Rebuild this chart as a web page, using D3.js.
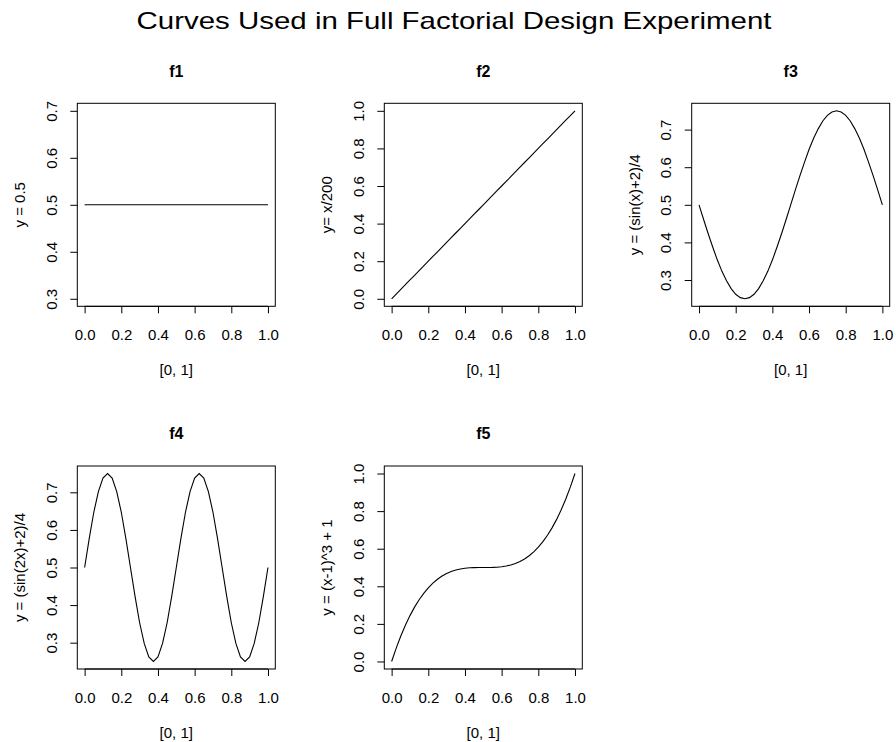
<!DOCTYPE html>
<html><head><meta charset="utf-8">
<script src="https://cdn.jsdelivr.net/npm/d3@7"></script>
<style>
body{margin:0;background:#fff;}
svg{display:block;font-family:"Liberation Sans",Arial,sans-serif;}
</style></head><body>
<div id="chart"></div>
<script>
const mainTitle = "Curves Used in Full Factorial Design Experiment";
const panelTitles = ["f1","f2","f3","f4","f5"];
const yLabels = ["y = 0.5","y= x/200","y = (sin(x)+2)/4","y = (sin(2x)+2)/4","y = (x-1)^3 + 1"];
const xLabel = "[0, 1]";
const xTicks = [0.0,0.2,0.4,0.6,0.8,1.0];
const yTicksSmall = [0.3,0.4,0.5,0.6,0.7];
const yTicksUnit = [0.0,0.2,0.4,0.6,0.8,1.0];

const xGrid = [0,0.025,0.05,0.075,0.1,0.125,0.15,0.175,0.2,0.225,0.25,0.275,0.3,0.325,0.35,0.375,0.4,0.425,0.45,0.475,0.5,
  0.525,0.55,0.575,0.6,0.625,0.65,0.675,0.7,0.725,0.75,0.775,0.8,0.825,0.85,0.875,0.9,0.925,0.95,0.975,1];
const f1 = [0.5,0.5,0.5,0.5,0.5,0.5,0.5,0.5,0.5,0.5,0.5,0.5,0.5,0.5,0.5,0.5,0.5,0.5,0.5,0.5,0.5,
  0.5,0.5,0.5,0.5,0.5,0.5,0.5,0.5,0.5,0.5,0.5,0.5,0.5,0.5,0.5,0.5,0.5,0.5,0.5,0.5];
const f2 = [0,0.025,0.05,0.075,0.1,0.125,0.15,0.175,0.2,0.225,0.25,0.275,0.3,0.325,0.35,0.375,0.4,0.425,0.45,0.475,0.5,
  0.525,0.55,0.575,0.6,0.625,0.65,0.675,0.7,0.725,0.75,0.775,0.8,0.825,0.85,0.875,0.9,0.925,0.95,0.975,1];
const f3 = [0.5,0.461,0.423,0.387,0.353,0.323,0.298,0.277,0.262,0.253,0.25,
  0.253,0.262,0.277,0.298,0.323,0.353,0.387,0.423,0.461,0.5,
  0.539,0.577,0.613,0.647,0.677,0.702,0.723,0.738,0.747,0.75,
  0.747,0.738,0.723,0.702,0.677,0.647,0.613,0.577,0.539,0.5];
const f4 = [0.5,0.577,0.647,0.702,0.738,0.75,0.738,0.702,0.647,0.577,0.5,
  0.423,0.353,0.298,0.262,0.25,0.262,0.298,0.353,0.423,0.5,
  0.577,0.647,0.702,0.738,0.75,0.738,0.702,0.647,0.577,0.5,
  0.423,0.353,0.298,0.262,0.25,0.262,0.298,0.353,0.423,0.5];
const f5 = [0,0.0713,0.1355,0.1929,0.244,0.2891,0.3285,0.3627,0.392,0.4168,0.4375,
  0.4544,0.468,0.4786,0.4865,0.4922,0.496,0.4983,0.4995,0.4999,0.5,
  0.5001,0.5005,0.5017,0.504,0.5078,0.5135,0.5214,0.532,0.5456,0.5625,
  0.5832,0.608,0.6373,0.6715,0.7109,0.756,0.8071,0.8645,0.9287,1];
const seriesValues = [f1,f2,f3,f4,f5];
const yDomains = [[0.284,0.716],[-0.04,1.04],[0.23,0.77],[0.23,0.77],[-0.04,1.04]];
const yTickSets = [yTicksSmall,yTicksUnit,yTicksSmall,yTicksSmall,yTicksUnit];

const W = 896, H = 742;
const colLeft = [77.3, 384.3, 691.7];
const rowTop = [103.3, 466];
const pw = 198, ph = 203;

const svg = d3.select("#chart").append("svg").attr("width",W).attr("height",H);
svg.append("rect").attr("width",W).attr("height",H).attr("fill","#fff");

svg.append("text").attr("x",454).attr("y",28.5).attr("text-anchor","middle")
  .attr("font-size",24).attr("fill","#000")
  .attr("textLength",635).attr("lengthAdjust","spacingAndGlyphs").text(mainTitle);

seriesValues.forEach((vals,i)=>{
  const c = i%3, r = Math.floor(i/3);
  const g = svg.append("g").attr("transform",`translate(${colLeft[c]},${rowTop[r]})`);
  const x = d3.scaleLinear().domain([-0.04,1.04]).range([0,pw]);
  const y = d3.scaleLinear().domain(yDomains[i]).range([ph,0]);

  const gx = g.append("g").attr("transform",`translate(0,${ph})`)
    .call(d3.axisBottom(x).tickValues(xTicks).tickFormat(d3.format(".1f")).tickSize(7).tickSizeOuter(0));
  gx.select(".domain").remove();
  gx.selectAll("text").attr("y",33.5).attr("dy",0).attr("font-size",15).attr("font-family",null).attr("fill","#000");
  gx.selectAll("line").attr("stroke","#000");
  gx.append("line").attr("x1",x(0)).attr("x2",x(1)).attr("stroke","#000");

  const gy = g.append("g")
    .call(d3.axisLeft(y).tickValues(yTickSets[i]).tickFormat(d3.format(".1f")).tickSize(7).tickSizeOuter(0));
  gy.select(".domain").remove();
  gy.selectAll("text").attr("x",0).attr("y",-20.6).attr("dy",0).attr("transform","rotate(-90)")
    .attr("text-anchor","middle").attr("font-size",15).attr("font-family",null).attr("fill","#000");
  gy.selectAll("line").attr("stroke","#000");

  g.append("rect").attr("width",pw).attr("height",ph).attr("fill","none").attr("stroke","#000").attr("stroke-width",1);

  const line = d3.line().x((d,k)=>x(xGrid[k])).y(d=>y(d));
  g.append("path").datum(vals).attr("d",line).attr("fill","none").attr("stroke","#000").attr("stroke-width",1.1);

  g.append("text").attr("x",pw/2).attr("y",-26.6).attr("text-anchor","middle")
    .attr("font-size",16).attr("font-weight","bold").attr("fill","#000").text(panelTitles[i]);
  g.append("text").attr("x",pw/2).attr("y",ph+69).attr("text-anchor","middle")
    .attr("font-size",15).attr("fill","#000").text(xLabel);
  g.append("text").attr("transform",`translate(-52,${ph/2}) rotate(-90)`).attr("text-anchor","middle")
    .attr("font-size",15).attr("fill","#000").text(yLabels[i]);
});
</script>
</body></html>
